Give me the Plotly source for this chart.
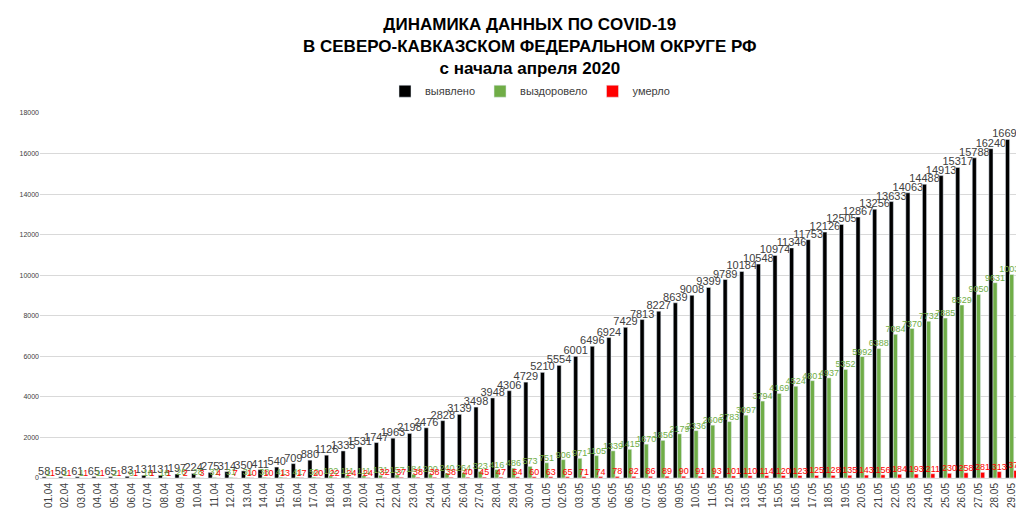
import plotly.graph_objects as go

dates = [f"{d:02d}.04" for d in range(1, 31)] + [f"{d:02d}.05" for d in range(1, 30)]
detected = [58,58,61,65,65,83,131,131,197,224,275,314,350,411,540,709,880,1126,1335,1531,1747,1963,2198,2476,2828,3139,3498,3948,4306,4729,
            5210,5554,6001,6496,6924,7429,7813,8227,8639,9008,9399,9789,10184,10548,10974,11346,11753,12126,12505,12867,13256,13633,14063,14488,14913,15317,15788,16240,16698]
recovered = [1,1,1,1,2,6,18,18,26,28,31,31,31,38,41,41,50,102,111,111,131,157,184,200,240,264,323,416,486,573,
             751,906,971,1105,1339,1415,1670,1856,2179,2336,2606,2783,3097,3794,4169,4524,4801,4937,5352,5992,6388,7084,7370,7732,7885,8529,9050,9631,10036]
died = [1,1,1,1,1,1,1,1,2,3,4,7,10,10,13,17,20,22,24,24,32,37,38,38,38,40,45,47,54,60,
        63,65,71,74,78,82,86,89,90,91,93,101,110,114,120,123,125,128,135,143,156,184,193,211,230,258,281,313,371]

common = dict(textposition="outside", textangle=0, constraintext="none", cliponaxis=False)
fig = go.Figure()
fig.add_bar(x=dates, y=detected, name="выявлено", marker_color="black",
            text=detected, textfont=dict(size=11, color="#404040"), **common)
fig.add_bar(x=dates, y=recovered, name="выздоровело", marker_color="#70ad47",
            text=recovered, textfont=dict(size=9, color="#70ad47"), **common)
fig.add_bar(x=dates, y=died, name="умерло", marker_color="#ff0000",
            text=died, textfont=dict(size=9, color="#ff0000", family="Liberation Sans, Arial"), **common)

fig.add_annotation(text="<b>ДИНАМИКА ДАННЫХ ПО COVID-19<br>В СЕВЕРО-КАВКАЗСКОМ ФЕДЕРАЛЬНОМ ОКРУГЕ РФ<br>с начала апреля 2020</b>",
                   xref="paper", yref="paper", x=0.5, y=1.0, yshift=100, xanchor="center", yanchor="top",
                   showarrow=False, font=dict(size=17, color="black"))

fig.update_layout(
    width=1024, height=512, barmode="group", bargap=0.25, bargroupgap=0,
    plot_bgcolor="white", paper_bgcolor="white",
    font=dict(family="Liberation Sans, Arial", color="#404040"),
    legend=dict(orientation="h", x=0.5, xanchor="center", y=1.02, yanchor="bottom", font=dict(size=11)),
    margin=dict(l=30, r=12, t=105, b=38),
    uniformtext=dict(mode=False),
)
fig.update_xaxes(tickangle=-90, tickfont=dict(size=10), showline=True, linecolor="#d9d9d9")
fig.update_yaxes(range=[0, 18000], dtick=2000, tickformat="d", tickfont=dict(size=7), gridcolor="#d9d9d9", zeroline=False)
fig.write_html("out.html")
